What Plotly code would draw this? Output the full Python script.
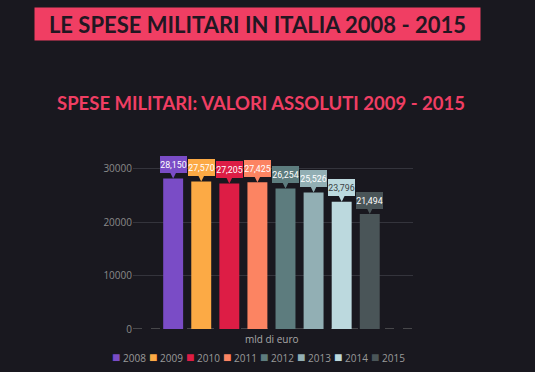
import plotly.graph_objects as go

years = ["2008", "2009", "2010", "2011", "2012", "2013", "2014", "2015"]
values = [28150, 27570, 27205, 27425, 26254, 25526, 23796, 21494]
colors = ["#7a4cc6", "#fcaa45", "#dd1d45", "#fc8462", "#5d7c7e", "#92afb4", "#bcd9de", "#4a5558"]
label_colors = ["white", "white", "white", "white", "white", "white", "#3a3f44", "white"]
yticks = [0, 10000, 20000, 30000]

BG = "#19181f"
PINK = "#f03e63"

# plot area in pixels
L, R, T, B = 133, 413, 150, 329
W, H = 535, 372
PW, PH = R - L, B - T

def px(x):
    return (x - L) / PW

def py(y):
    return (B - y) / PH

fig = go.Figure()
for yr, v, c in zip(years, values, colors):
    fig.add_trace(go.Bar(x=[yr], y=[v], marker=dict(color=c, line=dict(width=0)),
                         name=yr, showlegend=False))

annotations = []
for i, (yr, v, c, tc) in enumerate(zip(years, values, colors, label_colors)):
    annotations.append(dict(
        x=i, y=v, xref="x", yref="y", text=f"{v:,}",
        showarrow=True, ax=0, ay=-14, arrowhead=2, arrowsize=1.0, arrowwidth=1.5,
        arrowcolor=c, standoff=0, bgcolor=c, borderpad=0, borderwidth=0,
        width=27, height=17, align="center",
        font=dict(color=tc, size=8.8, family="Roboto"),
    ))

# banner title
annotations.append(dict(
    xref="paper", yref="paper", x=px(257.5), y=py(24), xanchor="center", yanchor="middle",
    text="<b>LE SPESE MILITARI IN ITALIA 2008 - 2015</b>", showarrow=False,
    width=441, height=28, bgcolor=PINK, borderpad=2, align="center",
    font=dict(color="#221722", size=22, family="Lato"),
))
# subtitle
annotations.append(dict(
    xref="paper", yref="paper", x=px(261), y=py(103), xanchor="center", yanchor="middle",
    text="<b>SPESE MILITARI: VALORI ASSOLUTI 2009 - 2015</b>", showarrow=False,
    font=dict(color=PINK, size=18.5, family="Lato"),
))
# axis caption
annotations.append(dict(
    xref="paper", yref="paper", x=px(272), y=py(339), xanchor="center", yanchor="middle",
    text="mld di euro", showarrow=False,
    font=dict(color="#a8a8a8", size=10, family="Open Sans"),
))
# legend built as text
for i, (yr, c) in enumerate(zip(years, colors)):
    annotations.append(dict(
        xref="paper", yref="paper", x=px(110 + 37 * i), y=py(356), xanchor="left", yanchor="middle",
        text=f"<span style='color:{c};font-size:14px'>■</span> {yr}", showarrow=False,
        font=dict(color="#9a9a9a", size=10, family="Open Sans"),
    ))

fig.update_layout(
    width=W, height=H,
    margin=dict(l=L, r=W - R, t=T, b=H - B, pad=0),
    paper_bgcolor=BG, plot_bgcolor=BG,
    barmode="overlay", bargap=0.29,
    annotations=annotations,
    xaxis=dict(type="category", range=[-1.43, 8.54], showticklabels=False, showgrid=False,
               zeroline=False, showline=False, ticks=""),
    yaxis=dict(range=[0, 33460], tickvals=yticks, ticktext=[str(t) for t in yticks],
               tickfont=dict(color="#8a8a8a", size=10, family="Open Sans"),
               showgrid=True, gridcolor="#34343c", gridwidth=1, zeroline=False,
               showline=False, ticks=""),
    shapes=[dict(type="line", xref="paper", yref="y", x0=0, x1=1, y0=0, y1=0,
                 line=dict(color="#777777", width=1, dash="dash"), layer="below")],
    font=dict(family="Open Sans"),
)

fig.write_html("out.html", config={"displayModeBar": False},
               post_script="document.body.style.margin='0';document.body.style.overflow='hidden';document.body.style.background='%s';" % BG)
